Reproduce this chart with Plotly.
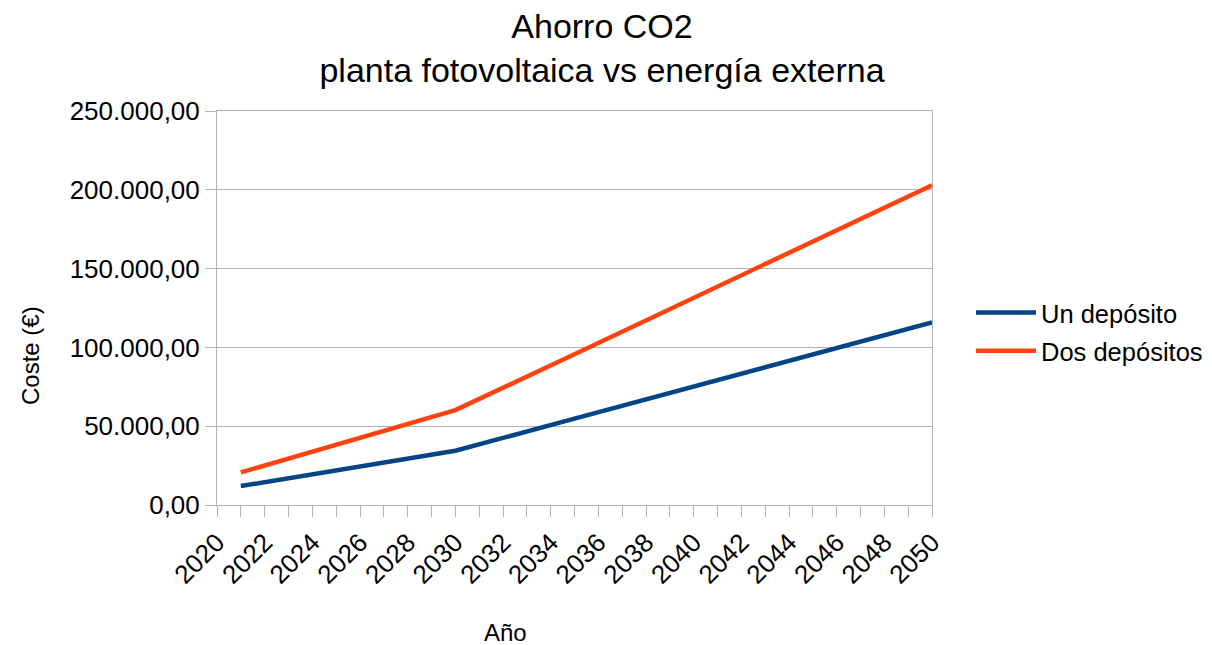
import plotly.graph_objects as go

years = [2021, 2025, 2030, 2035, 2040, 2045, 2050]
un_deposito = [12000, 22100, 34400, 54800, 75100, 95500, 115900]
dos_depositos = [20700, 38300, 60200, 95700, 131200, 166700, 202900]
series_names = ["Un depósito", "Dos depósitos"]
colors = ["#004586", "#ff420e"]

FONT = "Liberation Sans, Arial, sans-serif"

fig = go.Figure()
for name, vals, col, grp in zip(series_names, [un_deposito, dos_depositos], colors, ["a", "b"]):
    fig.add_trace(go.Scatter(x=years, y=vals, mode="lines", name=name,
                             legendgroup=grp,
                             line=dict(color=col, width=4.5)))

W, H = 1212, 645
L, R, T, B = 217, 1212 - 932, 111, 645 - 505
pw, ph = W - L - R, H - T - B

def px(x):
    return (x - L) / pw

def py(y):
    return (H - B - y) / ph

fig.update_layout(
    width=W, height=H,
    margin=dict(l=L, r=R, t=T, b=B, pad=0, autoexpand=False),
    paper_bgcolor="white", plot_bgcolor="white",
    separators=",.",
    font=dict(family=FONT, size=26, color="#000000"),
    title=dict(text="Ahorro CO2<br>planta fotovoltaica vs energía externa",
               xref="container", yref="container",
               x=602 / W, y=1 - 38 / H, xanchor="center", yanchor="middle",
               font=dict(family=FONT, size=34, color="#000000")),
    showlegend=True,
    legend=dict(x=px(971), y=py(332), xanchor="left", yanchor="middle",
                font=dict(family=FONT, size=25.5, color="#000000"),
                traceorder="grouped", tracegroupgap=2, itemwidth=60,
                bgcolor="rgba(0,0,0,0)"),
    xaxis=dict(range=[2020, 2050], tick0=2020, dtick=2, tickangle=-45,
               showgrid=False, showline=True, linecolor="#b3b3b3", linewidth=1,
               mirror=True, ticks="outside", ticklen=11, tickcolor="#b3b3b3",
               tickfont=dict(family=FONT, size=26, color="#000000"),
               minor=dict(dtick=1, tick0=2020, ticks="outside", ticklen=11,
                          tickcolor="#b3b3b3", showgrid=False),
               zeroline=False),
    yaxis=dict(range=[0, 250000], dtick=50000, tickformat=",.2f",
               showgrid=True, gridcolor="#b3b3b3", gridwidth=1,
               showline=True, linecolor="#b3b3b3", linewidth=1, mirror=True,
               ticks="outside", ticklen=11, tickcolor="#b3b3b3",
               tickfont=dict(family=FONT, size=26, color="#000000"),
               zeroline=False),
    annotations=[
        dict(text="Año", xref="paper", yref="paper", x=px(505), y=py(632),
             xanchor="center", yanchor="middle", showarrow=False,
             font=dict(family=FONT, size=24, color="#000000")),
        dict(text="Coste (€)", xref="paper", yref="paper", x=px(30), y=py(356),
             xanchor="center", yanchor="middle", showarrow=False, textangle=-90,
             font=dict(family=FONT, size=24, color="#000000")),
    ],
)

fig.write_html("out.html")
